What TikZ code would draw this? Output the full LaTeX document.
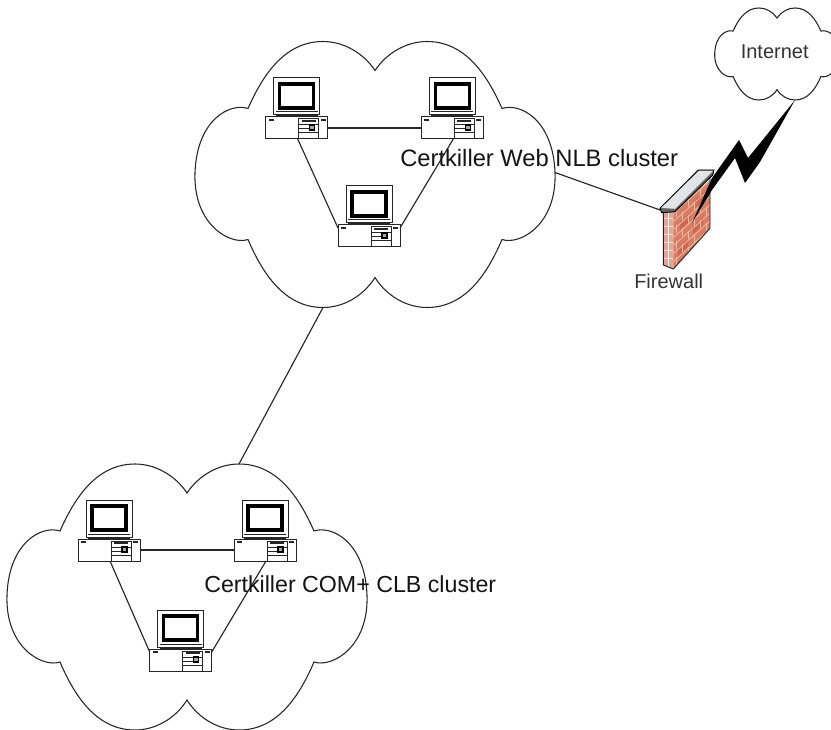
\documentclass[tikz,border=0pt]{standalone}
\usepackage{fontspec}
\setmainfont{Liberation Sans}
\definecolor{inkc}{HTML}{262626}
\definecolor{brickc}{HTML}{D97C64}
\definecolor{brickd}{HTML}{C9543F}
\definecolor{mortar}{HTML}{EFB9A2}
\definecolor{capc}{HTML}{E2E4E6}
\tikzset{
  x=0.75pt,y=-0.75pt,
  cloudline/.style={draw=inkc,line width=0.8pt,fill=white},
  link/.style={draw=inkc,line width=0.85pt},
  bigtext/.style={anchor=base west,inner sep=0pt,text=black!92},
  smalltext/.style={anchor=base west,inner sep=0pt,font=\fontsize{15}{18}\selectfont,text=black!80},
  pcline/.style={draw=inkc,line width=0.75pt},
  cloudshape/.pic={
    \path[cloudline,pic actions] (0,-104) .. controls (12,-122) and (32,-133) .. (52,-133)
      .. controls (90,-133) and (112,-100) .. (127,-66)
      .. controls (145,-72) and (178,-55) .. (180,-2)
      .. controls (182,50) and (145,71) .. (127,65)
      .. controls (112,100) and (90,133) .. (52,133)
      .. controls (32,133) and (12,122) .. (0,103)
      .. controls (-12,122) and (-32,133) .. (-52,133)
      .. controls (-90,133) and (-112,100) .. (-127,65)
      .. controls (-145,71) and (-182,50) .. (-180,-2)
      .. controls (-178,-55) and (-145,-72) .. (-127,-66)
      .. controls (-112,-100) and (-90,-133) .. (-52,-133)
      .. controls (-32,-133) and (-12,-122) .. (0,-104) -- cycle;
    \coordinate (-tr) at (52,-133);
    \coordinate (-bl) at (-52,133);
    \coordinate (-br) at (52,133);
    \coordinate (-east) at (180,-2);
  },
  computer/.pic={
    \path[pcline,fill=white] (-23,-50) rectangle (23,-13);
    \draw[black,line width=2.4pt] (-17,-44) rectangle (17,-20);
    \draw[pcline] (-21,-16) -- (21,-16);
    \fill[inkc] (-21,-13.5) rectangle (21,-11);
    \path[pcline,fill=white] (-31,-11) rectangle (31,11);
    \path[pcline,fill=white] (2,-9) rectangle (22,11);
    \fill[inkc] (5,-8) rectangle (19,-6);
    \draw[pcline] (2,-3) -- (22,-3) (2,1) -- (15,1) (2,5) -- (22,5);
    \fill[inkc] (-28,-9) rectangle (-23,-7);
    \fill[inkc] (24,-9) rectangle (29,-7);
    \path[draw=black,line width=0.8pt,fill=black!35] (13,-3) rectangle (18,2);
    \coordinate (-left) at (-31,0);
    \coordinate (-right) at (31,0);
    \coordinate (-bot) at (1,11);
    \coordinate (-upl) at (-31,-8);
    \coordinate (-upr) at (31,-8);
  },
}
\begin{document}
\begin{tikzpicture}
\useasboundingbox (0,0) rectangle (831,730);
\clip (0,0) rectangle (831,730);
% clouds
\pic (web) at (375,174.5) {cloudshape};
\pic (com) at (187,597) {cloudshape};
\pic[scale=0.346,draw=black!65,line width=0.6pt] (inet) at (777,54) {cloudshape};
% computers
\pic (wa) at (296.7,128) {computer};
\pic (wb) at (452.3,128) {computer};
\pic (wc) at (369,236) {computer};
\pic (ca) at (109,550) {computer};
\pic (cb) at (265,550) {computer};
\pic (cc) at (180.7,660) {computer};
% LAN links
\draw[link] (wa-right) -- (wb-left);
\draw[link] (wa-bot) -- (wc-upl);
\draw[link] (wb-bot) -- (wc-upr);
\draw[link] (ca-right) -- (cb-left);
\draw[link] (ca-bot) -- (cc-upl);
\draw[link] (cb-bot) -- (cc-upr);
% firewall
\coordinate (fwcap) at (660,210);
\begin{scope}
  \clip (663.3,211.7) -- (673.3,211.7) -- (673.3,269) -- (663.3,265) -- cycle;
  \fill[brickc!70!white] (663,211) rectangle (674,270);
  \foreach \yy in {218,226,234,242,250,258}
    \draw[white!90!brickc,line width=0.6pt] (663,\yy) -- (674,\yy+1);
  \draw[white!90!brickc,line width=0.6pt] (668,211) -- (668,270);
\end{scope}
\fill[brickc] (673.3,211.7) -- (710,180) -- (710,228.3) -- (673.3,269) -- cycle;
\begin{scope}
  \clip (673.3,211.7) -- (710,180) -- (710,228.3) -- (673.3,269) -- cycle;
  \fill[brickd,opacity=.55] (680,222) -- (690,213) -- (690,221) -- (680,230) -- cycle;
  \fill[brickd,opacity=.55] (693,226) -- (703,217) -- (703,225) -- (693,234) -- cycle;
  \fill[brickd,opacity=.55] (678,248) -- (688,239) -- (688,247) -- (678,256) -- cycle;
  \fill[brickd,opacity=.45] (695,200) -- (705,191) -- (705,199) -- (695,208) -- cycle;
  \foreach \ss in {0,8,16,24,32,40,48,56}
    \draw[mortar,line width=0.6pt] (673,206+\ss) -- (711,172+\ss);
  \foreach \ss/\tt in {0/0,1/1,2/0,3/1,4/0,5/1,6/0}
    \foreach \kk in {0,1,2}{
      \pgfmathsetmacro{\xa}{676+\tt*6+\kk*12}
      \pgfmathsetmacro{\ya}{212+\ss*8-(\xa-673)*0.88}
      \draw[mortar,line width=0.6pt] (\xa,\ya) -- (\xa,\ya+8);
    }
\end{scope}
\draw[black!85,line width=0.7pt] (663.3,212) -- (663.3,265) -- (673.3,269) -- (710,228.3) -- (710,178);
\path[draw=black,line width=0.7pt,fill=black!60] (660,208.3) -- (698.3,170) -- (714,170) -- (712.7,175) -- (675,211.7) -- (661.7,212.7) -- cycle;
\fill[capc] (661.2,208) -- (698.8,170.8) -- (713,170.8) -- (675,208.8) -- cycle;
% lightning
\fill[black] (inet-br) -- (748,158) -- (739,140) -- (712,178) -- (692,223) -- (712,190) -- (735,158) -- (745,183) -- (760,162) -- cycle;
% long links
\draw[link] (web-bl) -- (com-tr);
\draw[link] (web-east) -- (fwcap);
% labels
\node[bigtext,font=\fontsize{17.8}{20}\selectfont] (weblabel) at (400,167) {Certkiller Web NLB cluster};
\node[bigtext,font=\fontsize{17.4}{20}\selectfont] (comlabel) at (204,592) {Certkiller COM+ CLB cluster};
\node[smalltext] (inetlabel) at (740.5,59) {Internet};
\node[smalltext] (fwlabel) at (634,289) {Firewall};
\end{tikzpicture}
\end{document}
